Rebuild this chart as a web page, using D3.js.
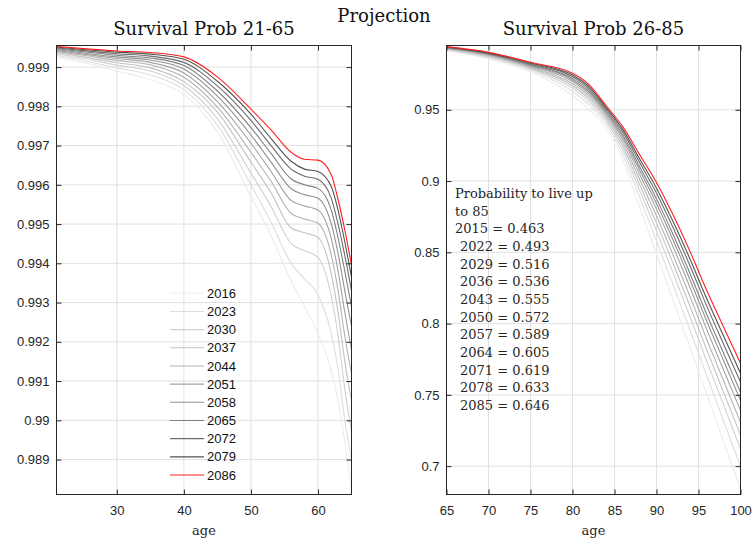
<!DOCTYPE html>
<html><head><meta charset="utf-8">
<script src="https://cdn.jsdelivr.net/npm/d3@7"></script>
<style>body{margin:0;background:#fff}</style>
</head><body>
<svg id="chart" width="753" height="542"></svg>
<script>
// Survival probability by age, one curve per projection year
const cohortYears = [2016, 2023, 2030, 2037, 2044, 2051, 2058, 2065, 2072, 2079, 2086];

// Panel 1: ages 21-65
const agesYoung = [21, 25, 30, 35, 40, 45, 50, 53, 56, 58, 60, 62, 63, 64, 65];
const young2016 = [0.99926, 0.99912, 0.99890, 0.99868, 0.99830, 0.99735, 0.99570, 0.99470, 0.99355, 0.99290, 0.99220, 0.99125, 0.99050, 0.98945, 0.98820];
const young2023 = [0.99930, 0.99917, 0.99898, 0.99880, 0.99842, 0.99752, 0.99600, 0.99505, 0.99400, 0.99360, 0.99320, 0.99220, 0.99130, 0.99000, 0.98900];
const young2030 = [0.99934, 0.99922, 0.99905, 0.99890, 0.99853, 0.99768, 0.99630, 0.99545, 0.99450, 0.99432, 0.99415, 0.99315, 0.99215, 0.99080, 0.98970];
const young2037 = [0.99937, 0.99926, 0.99911, 0.99898, 0.99863, 0.99785, 0.99658, 0.99580, 0.99490, 0.99478, 0.99466, 0.99372, 0.99275, 0.99150, 0.99050];
const young2044 = [0.99940, 0.99930, 0.99917, 0.99906, 0.99874, 0.99798, 0.99683, 0.99609, 0.99527, 0.99513, 0.99502, 0.99420, 0.99330, 0.99215, 0.99120];
const young2051 = [0.99942, 0.99933, 0.99922, 0.99912, 0.99885, 0.99812, 0.99706, 0.99634, 0.99560, 0.99546, 0.99536, 0.99462, 0.99380, 0.99275, 0.99180];
const young2058 = [0.99945, 0.99936, 0.99926, 0.99918, 0.99895, 0.99826, 0.99727, 0.99658, 0.99590, 0.99575, 0.99566, 0.99500, 0.99425, 0.99330, 0.99240];
const young2065 = [0.99947, 0.99939, 0.99930, 0.99923, 0.99904, 0.99839, 0.99746, 0.99680, 0.99615, 0.99600, 0.99591, 0.99535, 0.99465, 0.99380, 0.99290];
const young2072 = [0.99949, 0.99942, 0.99934, 0.99928, 0.99912, 0.99852, 0.99764, 0.99700, 0.99640, 0.99622, 0.99614, 0.99565, 0.99500, 0.99420, 0.99330];
const young2079 = [0.99951, 0.99945, 0.99938, 0.99933, 0.99920, 0.99864, 0.99780, 0.99718, 0.99660, 0.99640, 0.99634, 0.99595, 0.99535, 0.99455, 0.99365];
const young2086 = [0.99953, 0.99947, 0.99941, 0.99937, 0.99926, 0.99875, 0.99793, 0.99740, 0.99683, 0.99665, 0.99663, 0.99625, 0.99562, 0.99485, 0.99396];

// Panel 2: ages 65-100
const agesOld = [65, 70, 75, 80, 82, 84, 86, 88, 90, 92, 94, 96, 98, 100];
const old2016 = [0.9915, 0.9858, 0.9765, 0.9600, 0.9500, 0.9370, 0.9140, 0.8815, 0.8490, 0.8160, 0.7830, 0.7500, 0.7170, 0.6840];
const old2023 = [0.9920, 0.9866, 0.9777, 0.9628, 0.9532, 0.9399, 0.9183, 0.8882, 0.8580, 0.8268, 0.7952, 0.7631, 0.7315, 0.6999];
const old2030 = [0.9924, 0.9872, 0.9787, 0.9650, 0.9556, 0.9421, 0.9217, 0.8933, 0.8650, 0.8352, 0.8046, 0.7734, 0.7428, 0.7122];
const old2037 = [0.9927, 0.9877, 0.9794, 0.9667, 0.9575, 0.9439, 0.9243, 0.8974, 0.8705, 0.8418, 0.8120, 0.7814, 0.7516, 0.7219];
const old2044 = [0.9930, 0.9882, 0.9801, 0.9683, 0.9593, 0.9455, 0.9267, 0.9011, 0.8755, 0.8478, 0.8188, 0.7887, 0.7597, 0.7307];
const old2051 = [0.9933, 0.9886, 0.9808, 0.9698, 0.9609, 0.9470, 0.9290, 0.9046, 0.8803, 0.8535, 0.8252, 0.7956, 0.7673, 0.7391];
const old2058 = [0.9935, 0.9890, 0.9813, 0.9710, 0.9623, 0.9483, 0.9309, 0.9076, 0.8843, 0.8583, 0.8306, 0.8015, 0.7738, 0.7462];
const old2065 = [0.9937, 0.9893, 0.9817, 0.9720, 0.9635, 0.9493, 0.9325, 0.9100, 0.8875, 0.8622, 0.8350, 0.8062, 0.7790, 0.7519];
const old2072 = [0.9939, 0.9896, 0.9823, 0.9733, 0.9649, 0.9506, 0.9344, 0.9130, 0.8915, 0.8670, 0.8404, 0.8121, 0.7854, 0.7590];
const old2079 = [0.9941, 0.9899, 0.9828, 0.9744, 0.9661, 0.9517, 0.9361, 0.9155, 0.8950, 0.8712, 0.8451, 0.8172, 0.7911, 0.7651];
const old2086 = [0.9943, 0.9903, 0.9833, 0.9756, 0.9675, 0.9530, 0.9380, 0.9185, 0.8990, 0.8760, 0.8505, 0.8230, 0.7975, 0.7722];

// Probability of reaching 85, by year
const probYears = [2015, 2022, 2029, 2036, 2043, 2050, 2057, 2064, 2071, 2078, 2085];
const probTo85 = [0.463, 0.493, 0.516, 0.536, 0.555, 0.572, 0.589, 0.605, 0.619, 0.633, 0.646];

// Axis ticks
const youngAgeTicks = [30, 40, 50, 60];
const youngProbTicks = [0.989, 0.990, 0.991, 0.992, 0.993, 0.994, 0.995, 0.996, 0.997, 0.998, 0.999];
const youngProbLabels = ['0.989', '0.99', '0.991', '0.992', '0.993', '0.994', '0.995', '0.996', '0.997', '0.998', '0.999'];
const oldAgeTicks = [65, 70, 75, 80, 85, 90, 95, 100];
const oldProbTicks = [0.70, 0.75, 0.80, 0.85, 0.90, 0.95];
const oldProbLabels = ['0.7', '0.75', '0.8', '0.85', '0.9', '0.95'];

const youngSeries = [young2016, young2023, young2030, young2037, young2044, young2051, young2058, young2065, young2072, young2079, young2086];
const oldSeries = [old2016, old2023, old2030, old2037, old2044, old2051, old2058, old2065, old2072, old2079, old2086];

const lineColors = ['#ececec', '#dedede', '#d0d0d0', '#c2c2c2', '#b3b3b3', '#a3a3a3', '#929292', '#808080', '#6c6c6c', '#535353', '#ff1f1f'];

const svg = d3.select('#chart');
const SANS = '"Liberation Sans", Arial, sans-serif';
const SERIF = '"DejaVu Serif", serif';
const INK = '#262626';

svg.append('text').attr('x', 384).attr('y', 22).attr('text-anchor', 'middle')
  .attr('font-family', SERIF).attr('font-size', 18).attr('fill', '#111').text('Projection');

function drawPanel(cfg) {
  const { left, right, top, bottom, xDomain, yDomain, ages, series, xTicks, yTicks, yLabels, title, clipId } = cfg;
  const x = d3.scaleLinear().domain(xDomain).range([left, right]);
  const y = d3.scaleLinear().domain(yDomain).range([bottom, top]);
  const g = svg.append('g');

  // grid
  g.append('g').selectAll('line').data(xTicks).join('line')
    .attr('x1', d => x(d)).attr('x2', d => x(d)).attr('y1', top).attr('y2', bottom)
    .attr('stroke', '#e1e1e1').attr('stroke-width', 1);
  g.append('g').selectAll('line').data(yTicks).join('line')
    .attr('y1', d => y(d)).attr('y2', d => y(d)).attr('x1', left).attr('x2', right)
    .attr('stroke', '#e1e1e1').attr('stroke-width', 1);

  // curves, lightest first so the newest year sits on top
  g.append('clipPath').attr('id', clipId).append('rect')
    .attr('x', left).attr('y', top).attr('width', right - left).attr('height', bottom - top);
  const line = d3.line().x((d, i) => x(ages[i])).y(d => y(d)).curve(d3.curveMonotoneX);
  g.append('g').attr('clip-path', `url(#${clipId})`).selectAll('path').data(series).join('path')
    .attr('d', d => line(d)).attr('fill', 'none')
    .attr('stroke', (d, i) => lineColors[i]).attr('stroke-width', 1.1);

  // axes: ticks inward on all four sides
  const axB = d3.axisBottom(x).tickValues(xTicks).tickSizeInner(-5).tickSizeOuter(0).tickPadding(11).tickFormat(d3.format('d'));
  const axT = d3.axisTop(x).tickValues(xTicks).tickSizeInner(-5).tickSizeOuter(0).tickFormat('');
  const axL = d3.axisLeft(y).tickValues(yTicks).tickSizeInner(-5).tickSizeOuter(0).tickPadding(7).tickFormat((d, i) => yLabels[i]);
  const axR = d3.axisRight(y).tickValues(yTicks).tickSizeInner(-5).tickSizeOuter(0).tickFormat('');
  const styleAxis = sel => {
    sel.select('.domain').remove();
    sel.selectAll('line').attr('stroke', INK);
    sel.selectAll('text').attr('fill', INK).attr('font-family', SANS).attr('font-size', 13);
  };
  g.append('g').attr('transform', `translate(0,${bottom})`).call(axB).call(styleAxis);
  g.append('g').attr('transform', `translate(0,${top})`).call(axT).call(styleAxis);
  g.append('g').attr('transform', `translate(${left},0)`).call(axL).call(styleAxis);
  g.append('g').attr('transform', `translate(${right},0)`).call(axR).call(styleAxis);

  g.append('rect').attr('x', left).attr('y', top).attr('width', right - left).attr('height', bottom - top)
    .attr('fill', 'none').attr('stroke', INK).attr('stroke-width', 1);

  g.append('text').attr('x', (left + right) / 2).attr('y', 35).attr('text-anchor', 'middle')
    .attr('font-family', SERIF).attr('font-size', 18).attr('fill', '#111').text(title);
  g.append('text').attr('x', (left + right) / 2).attr('y', 535).attr('text-anchor', 'middle')
    .attr('font-family', SERIF).attr('font-size', 13).attr('fill', INK).text('age');
  return { x, y, g };
}

drawPanel({
  left: 56.5, right: 351.5, top: 45.5, bottom: 494.5,
  xDomain: [21, 65], yDomain: [0.98811, 0.99955],
  ages: agesYoung, series: youngSeries,
  xTicks: youngAgeTicks, yTicks: youngProbTicks, yLabels: youngProbLabels,
  title: 'Survival Prob 21-65', clipId: 'clipYoung'
});

drawPanel({
  left: 446.5, right: 740.5, top: 45.5, bottom: 494.5,
  xDomain: [65, 100], yDomain: [0.6801, 0.9951],
  ages: agesOld, series: oldSeries,
  xTicks: oldAgeTicks, yTicks: oldProbTicks, yLabels: oldProbLabels,
  title: 'Survival Prob 26-85', clipId: 'clipOld'
});

// legend for the 21-65 panel (no frame, transparent)
const leg = svg.append('g');
cohortYears.forEach((yr, i) => {
  const yy = 293.3 + i * 18.17;
  leg.append('line').attr('x1', 170).attr('x2', 204).attr('y1', yy).attr('y2', yy)
    .attr('stroke', lineColors[i]).attr('stroke-width', 1.1);
  leg.append('text').attr('x', 207).attr('y', yy + 4.6)
    .attr('font-family', SANS).attr('font-size', 13).attr('fill', '#111').text(yr);
});

// note in the 26-85 panel
const ann = svg.append('g').attr('font-family', SERIF).attr('font-size', 13).attr('fill', INK);
ann.append('text').attr('x', 455).attr('y', 198).text('Probability to live up');
ann.append('text').attr('x', 455).attr('y', 215.5).text('to 85');
probYears.forEach((yr, i) => {
  ann.append('text').attr('x', i === 0 ? 455 : 460).attr('y', 233.3 + i * 17.67)
    .text(`${yr} = ${probTo85[i].toFixed(3)}`);
});
</script>
</body></html>
